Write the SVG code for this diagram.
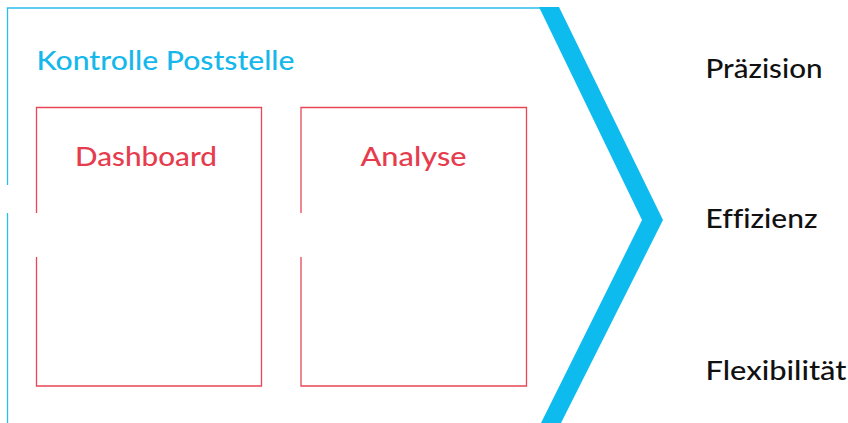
<svg xmlns="http://www.w3.org/2000/svg" width="848" height="423" viewBox="0 0 848 423">
<style>
.frame{fill:none;stroke:#2dbdec;stroke-width:1.3}
.box{fill:none;stroke:#e84656;stroke-width:1.3}
.t{font-family:Lato,"Noto Sans","Liberation Sans",sans-serif;font-size:26px;font-weight:500;font-variant-ligatures:none}
.blue{fill:#16b8eb}
.red{fill:#e63c4e}
.dark{fill:#111111}
</style>
<rect width="848" height="423" fill="#ffffff"/>
<g id="frame">
<path class="frame" d="M7.5,423 V213 M7.5,185 V8 H541"/>
<text class="t blue" x="36.5" y="70" textLength="258" lengthAdjust="spacingAndGlyphs">Kontrolle Poststelle</text>
</g>
<g id="chevron">
<polygon points="539,7 559,7 663,220 561,423 541,423 642,220" fill="#0ebbee"/>
</g>
<g id="dashboard">
<path class="box" d="M36.5,213 V107.5 H261.5 V386 H36.5 V257"/>
<text class="t red" x="75" y="166" textLength="142" lengthAdjust="spacingAndGlyphs">Dashboard</text>
</g>
<g id="analyse">
<path class="box" d="M301,213 V107.5 H526.5 V386 H301 V257"/>
<text class="t red" x="360.5" y="166" textLength="106" lengthAdjust="spacingAndGlyphs">Analyse</text>
</g>
<g id="praezision"><text class="t dark" x="705.5" y="78" textLength="117" lengthAdjust="spacingAndGlyphs">Präzision</text></g>
<g id="effizienz"><text class="t dark" x="705.5" y="228" textLength="112" lengthAdjust="spacingAndGlyphs">Effizienz</text></g>
<g id="flexibilitaet"><text class="t dark" x="705.5" y="380" textLength="141" lengthAdjust="spacingAndGlyphs">Flexibilität</text></g>
<g id="connectors"></g>
</svg>
